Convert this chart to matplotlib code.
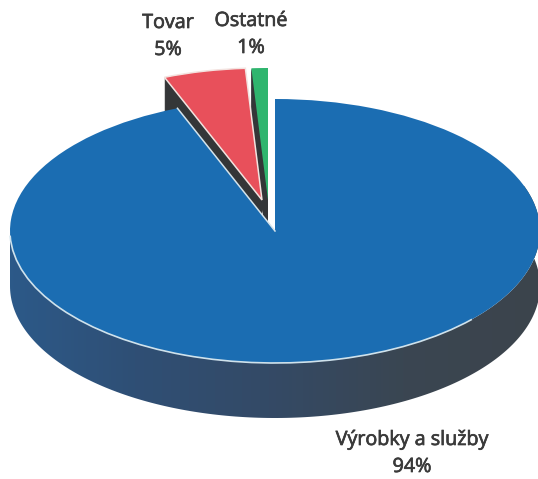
import numpy as np
import matplotlib
matplotlib.use("Agg")
import matplotlib.pyplot as plt
import matplotlib.patheffects as pe
from matplotlib.patches import Wedge, PathPatch, Arc
from matplotlib.path import Path
from matplotlib.colors import LinearSegmentedColormap

categories = ["Výrobky a služby", "Tovar", "Ostatné"]
values = [94, 5, 1]
colors = ["#1b6db2", "#e8505b", "#2fb56e"]
label_pos = [(412, 440), (168, 23), (251, 21)]

W, H = 538, 479
CX, CY, RX, RY = 275, 232, 265, 132
DEPTH = 55

fig = plt.figure(figsize=(W / 100, H / 100), dpi=100)
ax = fig.add_axes([0, 0, 1, 1])
ax.set_xlim(-CX / RX, (W - CX) / RX)
ax.set_ylim((CY - H) / RY, CY / RY)
ax.axis("off")


def px(x, y):
    return ((x - CX) / RX, (CY - y) / RY)


# slices run clockwise from 12 o'clock, in value order
total = sum(values)
edges = 90 - 360 * np.cumsum([0] + values) / total
apex = [(275, 231), (262, 200), (268, 200)]


def draw_slice(i, side, z, edge):
    c = px(*apex[i])
    t2, t1 = edges[i], edges[i + 1]
    if side:
        for d in np.arange(DEPTH, 0, -1.0):
            ax.add_patch(Wedge((c[0], c[1] - d / RY), 1, t1, t2, fc=side, ec="none", zorder=z))
    ax.add_patch(Wedge(c, 1, t1, t2, fc=colors[i], ec=edge, lw=1.1, zorder=z + 0.5))


# exploded small slices go behind the big one
draw_slice(2, "#343638", 1, "none")
draw_slice(1, "#343638", 2, "#f3e3e0")

# big slice: shaded wall, then top
c0 = px(*apex[0])
t = np.radians(np.linspace(180, 380, 200))
ex, ey = c0[0] + np.cos(t), c0[1] + np.sin(t)
wall = np.concatenate([np.column_stack([ex, ey]),
                       np.column_stack([ex[::-1], ey[::-1] - DEPTH / RY])])
wall_patch = PathPatch(Path(np.vstack([wall, wall[0]]), closed=True), fc="none", ec="none", zorder=3)
ax.add_patch(wall_patch)
cmap = LinearSegmentedColormap.from_list("wall", ["#2c5a8a", "#2f4f75", "#344a66", "#3a4652", "#3c444c"])
im = ax.imshow(np.linspace(0, 1, 256).reshape(1, -1), cmap=cmap, aspect="auto",
               extent=(-CX / RX, (W - CX) / RX, (CY - H) / RY, CY / RY), zorder=3.2)
im.set_clip_path(wall_patch)
ax.set_xlim(-CX / RX, (W - CX) / RX)
ax.set_ylim((CY - H) / RY, CY / RY)
draw_slice(0, None, 4, "none")

# light seam on the front rim and on the notch edge of the big slice
ax.add_patch(Arc(c0, 2, 2, theta1=182, theta2=318, color="#cfe2ec", lw=1.2, zorder=5))
a = np.radians(edges[1])
ax.plot([c0[0], c0[0] + np.cos(a)], [c0[1], c0[1] + np.sin(a)], color="#d5e4ec", lw=1.1, zorder=5)

stroke = [pe.withStroke(linewidth=0.5, foreground="#3a3a3a")]
for name, v, (x, y) in zip(categories, values, label_pos):
    tx, ty = px(x, y)
    ax.text(tx, ty, name, ha="center", va="center", fontsize=14.2, family="Open Sans",
            color="#3a3a3a", zorder=6, path_effects=stroke)
    tx, ty = px(x, y + 27)
    ax.text(tx, ty, f"{v}%", ha="center", va="center", fontsize=14.2, family="Open Sans",
            color="#3a3a3a", zorder=6, path_effects=stroke)

fig.savefig("out.png", dpi=100, facecolor="white")
